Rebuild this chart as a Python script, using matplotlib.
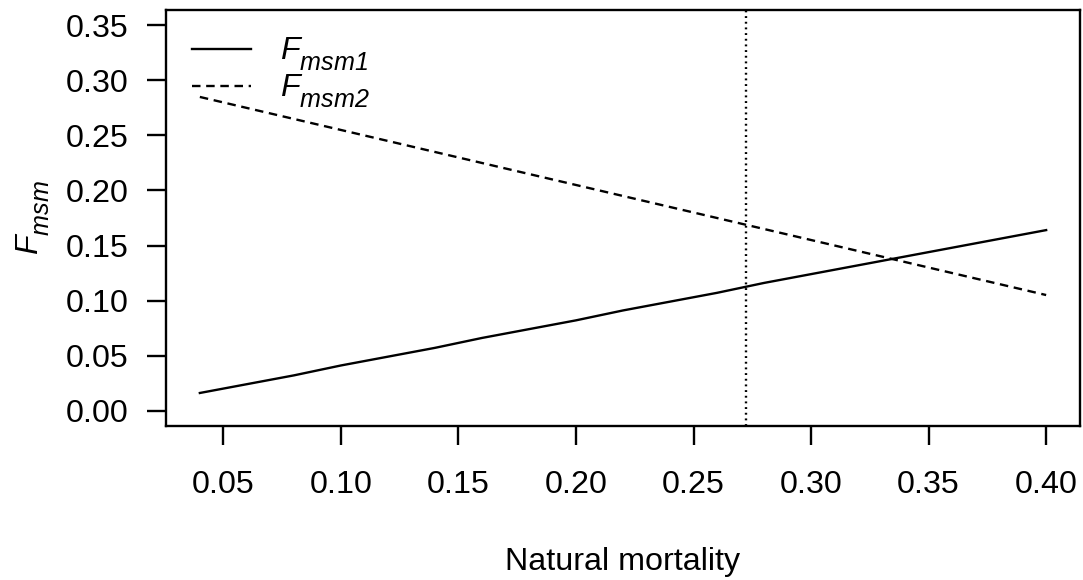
import matplotlib
matplotlib.use("Agg")
import matplotlib.pyplot as plt
from matplotlib import _mathtext

# Data
mortality = [0.04, 0.06, 0.08, 0.10, 0.12, 0.14, 0.16, 0.18, 0.20, 0.22,
             0.24, 0.26, 0.28, 0.30, 0.32, 0.34, 0.36, 0.38, 0.40]
fmsm1 = [0.016, 0.024, 0.032, 0.041, 0.049, 0.057, 0.066, 0.074, 0.082, 0.091,
         0.099, 0.107, 0.116, 0.124, 0.132, 0.140, 0.148, 0.156, 0.164]
fmsm2 = [0.285, 0.275, 0.265, 0.255, 0.245, 0.235, 0.225, 0.215, 0.205, 0.195,
         0.185, 0.175, 0.165, 0.155, 0.145, 0.135, 0.125, 0.115, 0.105]
m_ref = 0.2724
xticks = [0.05, 0.10, 0.15, 0.20, 0.25, 0.30, 0.35, 0.40]
yticks = [0.00, 0.05, 0.10, 0.15, 0.20, 0.25, 0.30, 0.35]

# R-like larger and lower subscripts
try:
    _mathtext.SHRINK_FACTOR = 0.78
    _mathtext.FontConstantsBase.sub1 = 0.65
    _mathtext.FontConstantsBase.subdrop = 0.6
except Exception:
    pass

plt.rcParams['font.family'] = ['Liberation Sans', 'DejaVu Sans']
plt.rcParams['mathtext.fontset'] = 'custom'
plt.rcParams['mathtext.it'] = 'Liberation Sans:italic'
plt.rcParams['mathtext.rm'] = 'Liberation Sans:italic'
plt.rcParams['mathtext.bf'] = 'Liberation Sans:bold'

FS = 23.2
LW = 1.7
fig = plt.figure(figsize=(10.83, 5.80), dpi=100)
ax = fig.add_axes([166/1083, 1 - 426/580, (1080 - 166)/1083, (426 - 10)/580])

ax.plot(mortality, fmsm1, color='black', lw=LW, ls='-', label=r'$F_{msm1}$')
ax.plot(mortality, fmsm2, color='black', lw=LW, ls=(0, (3.6, 2.4)), label=r'$F_{msm2}$')
ax.axvline(m_ref, color='black', lw=LW, ls=(0, (0.8, 1.6)))

xr = 0.40 - 0.04
ax.set_xlim(0.04 - 0.04 * xr, 0.40 + 0.04 * xr)
ax.set_ylim(0 - 0.04 * 0.35, 0.35 + 0.04 * 0.35)
ax.set_xticks(xticks)
ax.set_xticklabels([f"{v:.2f}" for v in xticks])
ax.set_yticks(yticks)
ax.set_yticklabels([f"{v:.2f}" for v in yticks])
ax.tick_params(axis='both', direction='out', length=13.7, width=LW,
               labelsize=FS, color='black')
ax.tick_params(axis='x', pad=18)
ax.tick_params(axis='y', pad=13)
for s in ax.spines.values():
    s.set_linewidth(LW)

ax.set_xlabel('Natural mortality', fontsize=FS, labelpad=34)
ax.set_ylabel(r'$F_{msm}$', fontsize=FS, labelpad=10)

leg = ax.legend(loc='upper left', bbox_to_anchor=(0.0, 1.0), frameon=False,
                fontsize=FS, handlelength=1.85, handletextpad=0.9,
                labelspacing=0.0, borderaxespad=0.4)

fig.savefig('out.png', dpi=100)
